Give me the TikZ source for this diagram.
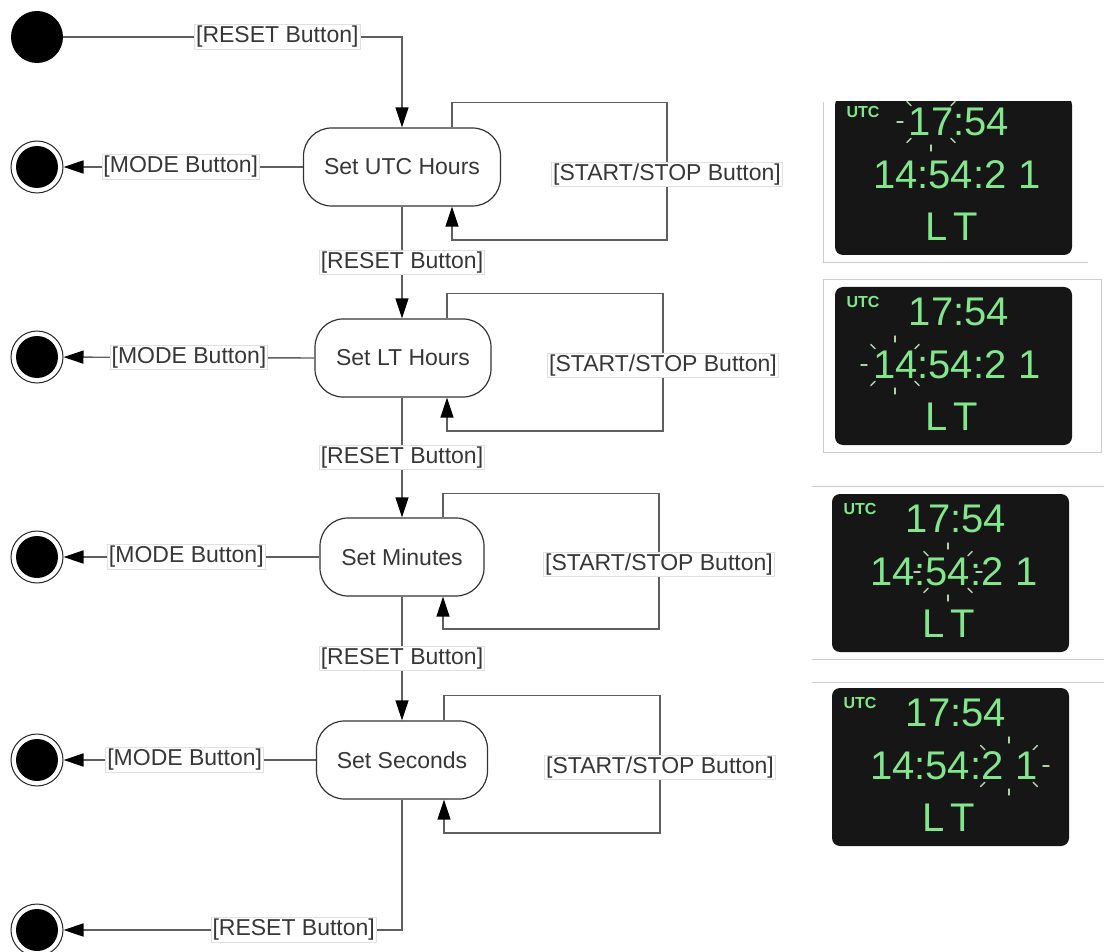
\documentclass[tikz,border=0pt]{standalone}
\usepackage{fontspec}
\setmainfont{Liberation Sans}
\usetikzlibrary{arrows.meta}
\definecolor{linec}{RGB}{95,95,95}
\definecolor{txtc}{RGB}{55,55,55}
\definecolor{lcdg}{RGB}{130,230,140}
\definecolor{lcdbg}{RGB}{22,22,22}
\definecolor{markc}{RGB}{175,210,175}
\definecolor{framec}{RGB}{205,205,205}
\tikzset{
 stbox/.style={draw=black!80, line width=1.2pt, rounded corners=28pt, fill=white, text=txtc,
   font=\fontsize{23}{26}\selectfont, inner sep=0pt, minimum height=78pt},
 lbl/.style={fill=white, draw=black!12, line width=0.8pt, inner sep=1.5pt, text=txtc,
   font=\fontsize{23}{26}\selectfont},
 trans/.style={draw=linec, line width=1.4pt},
 tip/.style={-{Triangle[length=20pt,width=13pt,color=black]}},
 initst/.style={circle, fill=black, minimum size=52pt, inner sep=0pt},
 finalst/.style={circle, draw=black!85, line width=1pt, fill=white, minimum size=52pt, inner sep=0pt,
   path picture={\fill[black] (path picture bounding box.center) circle (21pt);}},
 lcdsmall/.style={text=lcdg, font=\bfseries\fontsize{16}{16}\selectfont, inner sep=0pt},
 lcdbig/.style={text=lcdg, font=\fontsize{40}{40}\selectfont, inner sep=0pt},
 blinkmark/.style={draw=markc, line width=1.4pt, line cap=round},
 framel/.style={draw=framec, line width=1pt}
}
\newcommand\lcdpanel[3]{%
 \begin{scope}[shift={(#2,#3)}]
  \fill[lcdbg, rounded corners=8pt] (0,0) rectangle (237,158);
  \node[lcdsmall] (#1utc) at (28,15) {UTC};
  \node[lcdbig] (#1a) at (124,25) {17:54};
  \node[lcdbig] (#1b) at (122,78) {14:54:2\hspace{12pt}1};
  \node[lcdbig] (#1c) at (117,130) {L\hspace{6pt}T};
 \end{scope}}
\newcommand\blinkring[5]{%
 \foreach \a in {#5}{\draw[blinkmark] ({#1+#3*cos(\a)},{#2+#4*sin(\a)}) -- ({#1+(#3+6)*cos(\a)},{#2+(#4+6)*sin(\a)});}}
\begin{document}
\begin{tikzpicture}[x=1pt,y=-1pt]
\useasboundingbox (0,0) rectangle (1104,952);
% states
\node[initst] (init) at (37,37) {};
\node[stbox, minimum width=197pt] (S1) at (402,167) {Set UTC Hours};
\node[stbox, minimum width=176pt] (S2) at (403,358) {Set LT Hours};
\node[stbox, minimum width=164pt] (S3) at (402,557) {Set Minutes};
\node[stbox, minimum width=171pt] (S4) at (402,760) {Set Seconds};
\node[finalst] (e1) at (37,167) {};
\node[finalst] (e2) at (37,357) {};
\node[finalst] (e3) at (37,557) {};
\node[finalst] (e4) at (37,760) {};
\node[finalst] (e5) at (37,930) {};
% initial transition
\draw[trans,tip] (init) -| node[lbl,pos=0.316] (l0) {[RESET Button]} (S1.north);
% mode transitions
\draw[trans,tip] (S1.west) -- node[lbl,pos=0.51] (m1) {[MODE Button]} (e1);
\draw[trans,tip] (S2.west) -- node[lbl,pos=0.5] (m2) {[MODE Button]} (e2);
\draw[trans,tip] (S3.west) -- node[lbl,pos=0.52] (m3) {[MODE Button]} (e3);
\draw[trans,tip] (S4.west) -- node[lbl,pos=0.52] (m4) {[MODE Button]} (e4);
% reset transitions
\draw[trans,tip] (S1.south) -- node[lbl,pos=0.5] (r1) {[RESET Button]} (S1.south |- S2.north);
\draw[trans,tip] (S2.south -| S3.north) -- node[lbl,pos=0.5] (r2) {[RESET Button]} (S3.north);
\draw[trans,tip] (S3.south) -- node[lbl,pos=0.5] (r3) {[RESET Button]} (S4.north);
\draw[trans,tip] (S4.south) |- node[lbl,pos=0.66] (r4) {[RESET Button]} (e5);
% self loops
\draw[trans,tip] ([xshift=50pt]S1.north) -- ++(0,-25) -| node[lbl,pos=0.75,yshift=-3pt] (s1) {[START/STOP Button]} (667,240) -| ([xshift=50pt]S1.south);
\draw[trans,tip] ([xshift=44pt]S2.north) -- ++(0,-25) -| node[lbl,pos=0.75,yshift=-3pt] (s2) {[START/STOP Button]} (663,431) -| ([xshift=44pt]S2.south);
\draw[trans,tip] ([xshift=41pt]S3.north) -- ++(0,-24) -| node[lbl,pos=0.75,yshift=-3pt] (s3) {[START/STOP Button]} (659,629) -| ([xshift=41pt]S3.south);
\draw[trans,tip] ([xshift=42pt]S4.north) -- ++(0,-25) -| node[lbl,pos=0.75,yshift=-3pt] (s4) {[START/STOP Button]} (660,833) -| ([xshift=42pt]S4.south);
% LCD panels
\draw[framel] (823,102) -- (823,263) -- (1088,263);
\draw[framel] (823,280) rectangle (1101,452);
\draw[framel] (812,486) -- (1104,486);
\draw[framel] (812,659) -- (1104,659);
\draw[framel] (812,682) -- (1104,682);
\begin{scope}
 \clip (820,102) rectangle (1104,300);
 \lcdpanel{pa}{835}{97}
 \blinkring{931}{122}{28}{23}{45,90,...,315}
\end{scope}
\lcdpanel{pb}{835}{287}
\blinkring{895}{365}{28}{23}{45,90,...,315}
\lcdpanel{pc}{832}{494}
\blinkring{948}{572}{28}{23}{0,45,...,315}
\lcdpanel{pd}{832}{688}
\blinkring{1009}{766}{34}{23}{0,45,90,135,225,270,315}
\end{tikzpicture}
\end{document}
